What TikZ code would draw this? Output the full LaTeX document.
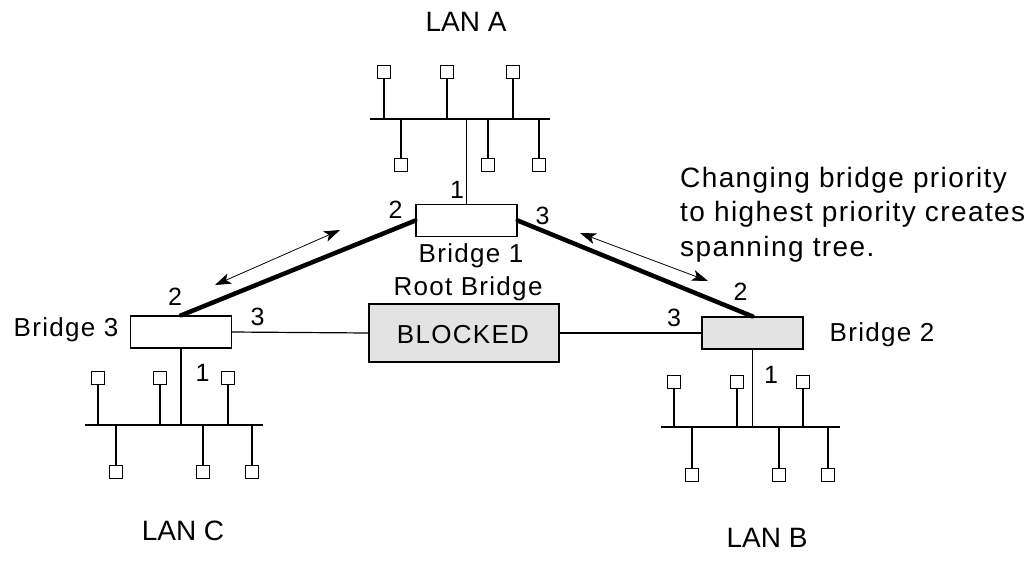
\documentclass[tikz,border=0pt]{standalone}
\usepackage{fontspec}
\setmainfont{Liberation Sans}
\newfontfamily\spacedsans[LetterSpace=5]{Liberation Sans}
\usetikzlibrary{arrows.meta}

\tikzset{
  station/.style={draw, line width=1pt, minimum size=13pt, inner sep=0pt, fill=white},
  wire/.style={line width=1.2pt},
  trunkline/.style={line width=4.5pt, line cap=round},
  bridgebox/.style={draw, line width=1.2pt, minimum width=101pt, minimum height=32pt, inner sep=0pt},
  hub/.style={fill=gray!22},
  flow/.style={line width=0.8pt, {Stealth[length=16pt,width=11pt,inset=4pt]}-{Stealth[length=16pt,width=11pt,inset=4pt]}},
  lbl/.style={inner sep=0pt, anchor=base, font=\spacedsans\fontsize{26}{30}\selectfont},
  port/.style={inner sep=0pt, anchor=base, font=\fontsize{25}{28}\selectfont},
  lanlbl/.style={inner sep=0pt, anchor=base, font=\fontsize{28}{30}\selectfont},
}

\begin{document}
\begin{tikzpicture}[x=1pt, y=-1pt]
  \useasboundingbox (0,0) rectangle (1032,563);

  % ---- bridges and the blocked link ----
  \node[bridgebox] (b1) at (466.5,220.5) {};
  \node[bridgebox] (b3) at (181,332) {};
  \node[bridgebox, hub] (b2) at (752.5,333) {};
  \node[draw, line width=1.2pt, hub, minimum width=190pt, minimum height=58pt, inner sep=0pt] (blk) at (464,333) {};
  \node[lbl] at (463,343) {BLOCKED};

  % ---- LAN A ----
  \coordinate (busAl) at (370,119);
  \coordinate (busAr) at (550,119);
  \draw[wire] (busAl) -- (busAr);
  \foreach \n/\x in {1/384,2/447,3/513} {
    \node[station] (At\n) at (\x,71.7) {};
    \draw[wire] (At\n.south) -- (At\n.south |- busAl);
  }
  \foreach \n/\x in {1/401,2/488,3/539} {
    \node[station] (Ab\n) at (\x,165) {};
    \draw[wire] (Ab\n.north) -- (Ab\n.north |- busAl);
  }
  \draw[wire] (b1.north) -- (b1.north |- busAl);

  % ---- LAN C ----
  \coordinate (busCl) at (85,425);
  \coordinate (busCr) at (263,425);
  \draw[wire] (busCl) -- (busCr);
  \foreach \n/\x in {1/98,2/160,3/228} {
    \node[station] (Ct\n) at (\x,378) {};
    \draw[wire] (Ct\n.south) -- (Ct\n.south |- busCl);
  }
  \foreach \n/\x in {1/116,2/203,3/252} {
    \node[station] (Cb\n) at (\x,471.7) {};
    \draw[wire] (Cb\n.north) -- (Cb\n.north |- busCl);
  }
  \draw[wire] (b3.south) -- (b3.south |- busCl);

  % ---- LAN B ----
  \coordinate (busBl) at (661,427);
  \coordinate (busBr) at (840,427);
  \draw[wire] (busBl) -- (busBr);
  \foreach \n/\x in {1/674,2/737,3/803} {
    \node[station] (Bt\n) at (\x,381.5) {};
    \draw[wire] (Bt\n.south) -- (Bt\n.south |- busBl);
  }
  \foreach \n/\x in {1/692,2/779,3/828} {
    \node[station] (Bb\n) at (\x,475) {};
    \draw[wire] (Bb\n.north) -- (Bb\n.north |- busBl);
  }
  \draw[wire] (b2.south) -- (b2.south |- busBl);

  % ---- links between bridges ----
  \draw[wire] (b3.east) -- (blk.west);
  \draw[wire] (blk.east) -- (b2.west);
  \draw[trunkline] (b1.west) -- (b3.north);
  \draw[trunkline] (b1.east) -- (b2.north);

  % ---- traffic arrows ----
  \coordinate (fl1) at (215,285);
  \coordinate (fl2) at (340,230);
  \coordinate (fr1) at (580,233);
  \coordinate (fr2) at (708,281);
  \draw[flow] (fl1) -- (fl2);
  \draw[flow] (fr1) -- (fr2);

  % ---- port numbers ----
  \node[port] at (457,198) {1};
  \node[port] at (395.5,218) {2};
  \node[port] at (542.5,224) {3};
  \node[port] at (175,305) {2};
  \node[port] at (257.5,325) {3};
  \node[port] at (202.5,381) {1};
  \node[port] at (674,326.7) {3};
  \node[port] at (740.5,300.7) {2};
  \node[port] at (771,383) {1};

  % ---- bridge names ----
  \node[lbl] at (471,262.7) {Bridge 1};
  \node[lbl] at (468,295) {Root Bridge};
  \node[lbl] at (66,336) {Bridge 3};
  \node[lbl] at (882,341.7) {Bridge 2};

  % ---- LAN names ----
  \node[lanlbl] at (466,31.7) {LAN A};
  \node[lanlbl] at (183,540) {LAN C};
  \node[lanlbl] at (767,547) {LAN B};

  % ---- note ----
  \node[inner sep=0pt, anchor=north west, align=left,
        font=\spacedsans\fontsize{28}{34.5}\selectfont] at (680,167)
    {Changing bridge priority\\to highest priority creates\\spanning tree.};
\end{tikzpicture}
\end{document}
